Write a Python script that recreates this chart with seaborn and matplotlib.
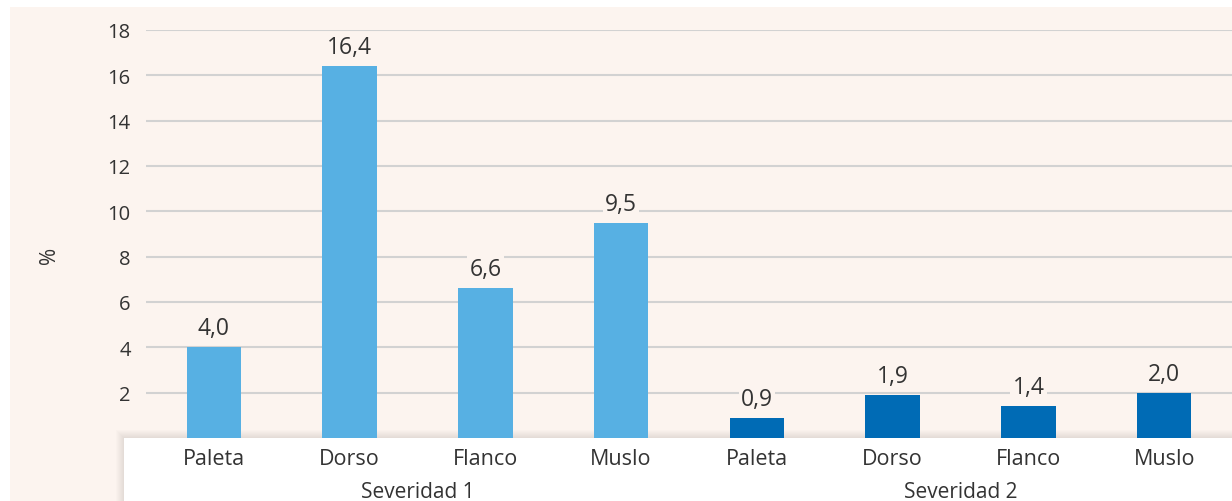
import matplotlib
matplotlib.use("Agg")
import matplotlib.pyplot as plt
from matplotlib.patches import Rectangle
import seaborn as sns
import pandas as pd

# Data
parts = ["Paleta", "Dorso", "Flanco", "Muslo"]
groups = ["Severidad 1", "Severidad 2"]
sev1_values = [4.0, 16.4, 6.6, 9.5]
sev2_values = [0.9, 1.9, 1.4, 2.0]
y_ticks = [2, 4, 6, 8, 10, 12, 14, 16, 18]

BG = "#fcf4ef"
TEXT = "#333333"
colors = {"Severidad 1": "#57b0e3", "Severidad 2": "#006bb5"}

df = pd.DataFrame({
    "pos": list(range(8)),
    "part": parts + parts,
    "group": [groups[0]] * 4 + [groups[1]] * 4,
    "value": sev1_values + sev2_values,
})

sns.set_theme(style="white")
plt.rcParams["font.family"] = ["Open Sans", "DejaVu Sans"]

W, H = 1232, 502
fig = plt.figure(figsize=(W / 100, H / 100), dpi=100, facecolor="white")

def px(x0, y0, w, h):
    """Figure-fraction rectangle from pixel coordinates (top-left origin)."""
    return (x0 / W, 1 - (y0 + h) / H, w / W, h / H)

# Tinted panel behind the chart
x, y, w, h = px(10, 8, W - 10, H - 8)
fig.patches.append(Rectangle((x, y), w, h, transform=fig.transFigure,
                             facecolor=BG, edgecolor="none", zorder=0))

# White label strip with a soft shadow
for i in range(8, 0, -1):
    x, y, w, h = px(124 - i, 439 - i, W - 124 + i, H - 439 + i)
    fig.patches.append(Rectangle((x, y), w, h, transform=fig.transFigure,
                                 facecolor="black", edgecolor="none",
                                 alpha=0.012, zorder=1))
x, y, w, h = px(124, 439, W - 124, H - 439)
fig.patches.append(Rectangle((x, y), w, h, transform=fig.transFigure,
                             facecolor="white", edgecolor="none", zorder=2))

ax = fig.add_axes([146 / W, (H - 439) / H, 1 - 146 / W, (439 - 31) / H])
ax.set_facecolor("none")
ax.set_zorder(3)

sns.barplot(data=df, x="pos", y="value", hue="group", palette=colors,
            dodge=False, width=0.4, legend=False, ax=ax, zorder=3,
            saturation=1, linewidth=0, edgecolor="none")

ax.set_xlim(-0.5, 7.5)
ax.set_ylim(0, 18)
ax.set_yticks(y_ticks)
ax.set_yticklabels([str(t) for t in y_ticks], fontsize=14.5, color=TEXT)
ax.yaxis.grid(True, color="#d2d2d2", linewidth=1.5, zorder=0)
ax.set_axisbelow(True)
ax.tick_params(axis="y", length=0, pad=11)
ax.set_xticks(df["pos"])
ax.set_xticklabels(df["part"], fontsize=15.5, color=TEXT)
ax.tick_params(axis="x", length=0, pad=7.5)
ax.set_xlabel("")
ax.set_ylabel("")
for s in ax.spines.values():
    s.set_visible(False)

# Value labels
for p, v in zip(df["pos"], df["value"]):
    ax.annotate(f"{v:.1f}".replace(".", ","), (p, v), xytext=(0, 5),
                textcoords="offset points", ha="center", va="bottom",
                fontsize=16.5, color=TEXT, zorder=5,
                bbox=dict(boxstyle="square,pad=0.1", facecolor=BG,
                          edgecolor="none"))

# Group labels under the category names
for gi, g in enumerate(groups):
    cx = ax.transData.transform((gi * 4 + 1.5, 0))[0] / W
    fig.text(cx, 1 - 493 / H, g, ha="center", va="center",
             fontsize=15, color=TEXT, zorder=4)

fig.text(50 / W, 1 - 255 / H, "%", rotation=90, ha="center", va="center",
         fontsize=15, color=TEXT)

fig.savefig("out.png", dpi=100, facecolor="white")
